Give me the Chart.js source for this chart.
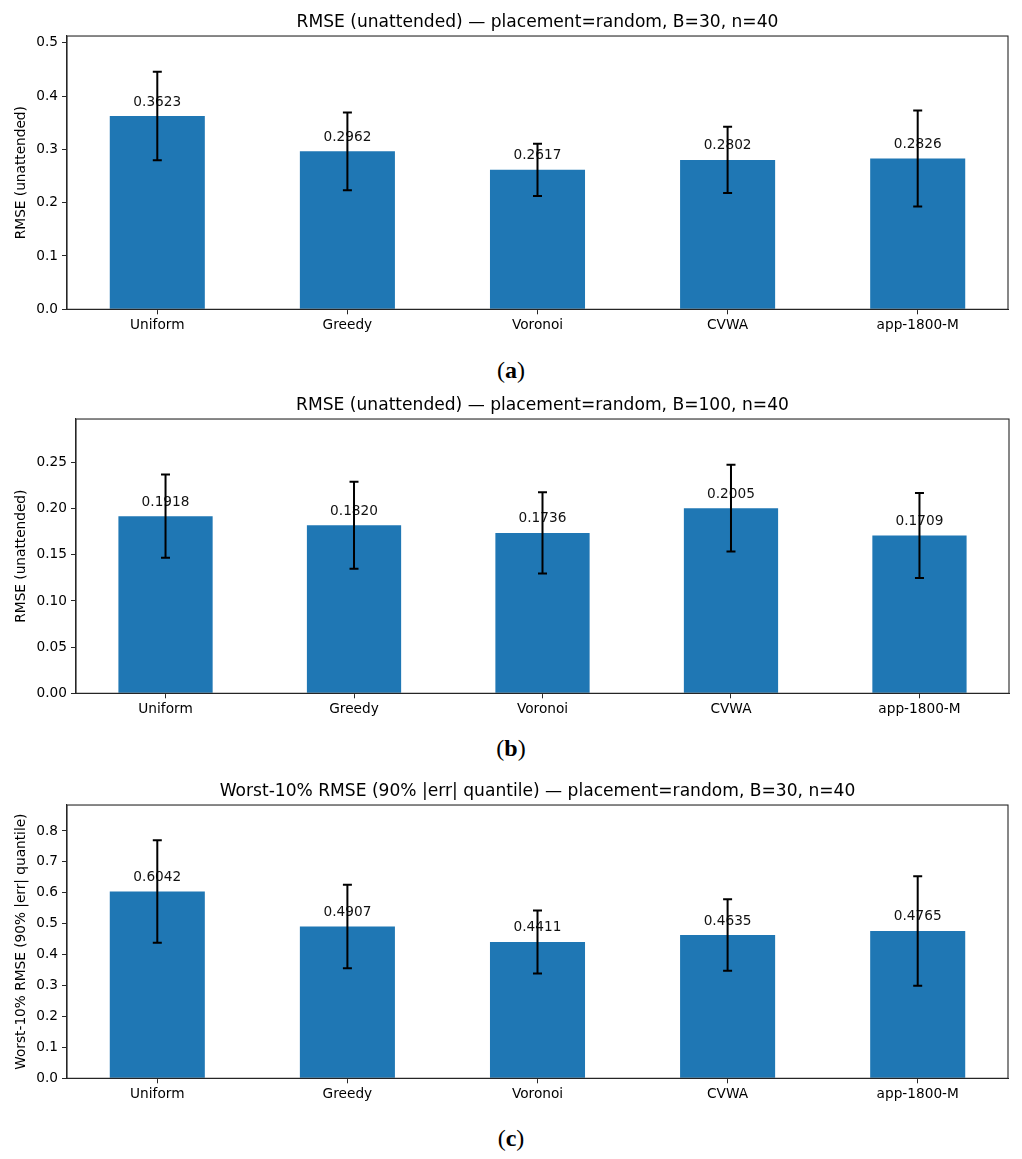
<!DOCTYPE html>
<html>
<head>
<meta charset="utf-8">
<script src="https://cdn.jsdelivr.net/npm/chart.js@4/dist/chart.umd.min.js"></script>
<style>
  html, body { margin: 0; padding: 0; background: #fff; }
  #page { position: relative; width: 1022px; height: 1159px; overflow: hidden; }
  canvas { position: absolute; left: 0; }
  .cap { position: absolute; left: 0; width: 1022px; text-align: center;
         font-family: "Liberation Serif", "DejaVu Serif", serif; font-size: 24px; line-height: 24px; color: #000; }
  .cap b { font-weight: bold; }
</style>
</head>
<body>
<div id="page">
  <canvas id="chartA" width="1022" height="341" style="top:0px"></canvas>
  <div class="cap" style="top:358px">(<b>a</b>)</div>
  <canvas id="chartB" width="1022" height="341" style="top:383px"></canvas>
  <div class="cap" style="top:736px">(<b>b</b>)</div>
  <canvas id="chartC" width="1022" height="341" style="top:769px"></canvas>
  <div class="cap" style="top:1126px">(<b>c</b>)</div>
</div>
<script>
// METODOS (CATEGORIAS)
const methods = ['Uniform', 'Greedy', 'Voronoi', 'CVWA', 'app-1800-M'];

// (a) RMSE B=30
const rmseB30 = [0.3623, 0.2962, 0.2617, 0.2802, 0.2826];
const rmseB30Err = [0.083, 0.073, 0.049, 0.062, 0.090];
const ticksA = [0, 0.1, 0.2, 0.3, 0.4, 0.5];

// (b) RMSE B=100
const rmseB100 = [0.1918, 0.1820, 0.1736, 0.2005, 0.1709];
const rmseB100Err = [0.045, 0.047, 0.044, 0.047, 0.046];
const ticksB = [0, 0.05, 0.10, 0.15, 0.20, 0.25];

// (c) WORST-10% B=30
const worstB30 = [0.6042, 0.4907, 0.4411, 0.4635, 0.4765];
const worstB30Err = [0.166, 0.135, 0.102, 0.116, 0.177];
const ticksC = [0, 0.1, 0.2, 0.3, 0.4, 0.5, 0.6, 0.7, 0.8];

Chart.defaults.font.family = 'DejaVu Sans';
Chart.defaults.font.size = 13.7;
Chart.defaults.color = '#000';

const AXIS = '#262626';

// BARRAS DE ERROR + ETIQUETAS + MARCO
const extrasPlugin = {
  id: 'extras',
  afterDatasetsDraw(chart, args, opts) {
    const ctx = chart.ctx;
    const xs = chart.scales.x, ys = chart.scales.y;
    ctx.save();
    // etiquetas de valor
    ctx.fillStyle = '#111';
    ctx.font = '13.7px "DejaVu Sans"';
    ctx.textAlign = 'center';
    ctx.textBaseline = 'alphabetic';
    opts.values.forEach((v, i) => {
      ctx.fillText(v.toFixed(4), xs.getPixelForValue(i), ys.getPixelForValue(v) - 10.5);
    });
    // barras de error
    ctx.strokeStyle = '#000';
    ctx.lineWidth = 2;
    opts.values.forEach((v, i) => {
      const x = xs.getPixelForValue(i);
      const yT = ys.getPixelForValue(v + opts.errors[i]);
      const yB = ys.getPixelForValue(v - opts.errors[i]);
      ctx.beginPath();
      ctx.moveTo(x, yT); ctx.lineTo(x, yB);
      ctx.moveTo(x - 4.5, yT); ctx.lineTo(x + 4.5, yT);
      ctx.moveTo(x - 4.5, yB); ctx.lineTo(x + 4.5, yB);
      ctx.stroke();
    });
    // marco
    const a = chart.chartArea;
    ctx.strokeStyle = AXIS;
    ctx.lineWidth = 1.1;
    ctx.strokeRect(a.left, a.top, a.right - a.left, a.bottom - a.top);
    ctx.restore();
  }
};

function makeChart(id, title, yTitle, values, errors, yTicks, yMax, decimals, yAxisW, rightPad, xAxisH) {
  const ctx = document.getElementById(id).getContext('2d');
  return new Chart(ctx, {
    type: 'bar',
    data: {
      datasets: [{
        data: values.map((v, i) => ({ x: i, y: v })),
        backgroundColor: '#1f77b4',
        borderWidth: 0,
        barPercentage: 0.5,
        categoryPercentage: 1.0
      }]
    },
    options: {
      responsive: false,
      animation: false,
      devicePixelRatio: 1,
      layout: { padding: { left: 0, right: rightPad, top: 0, bottom: 0 } },
      plugins: {
        legend: { display: false },
        tooltip: { enabled: false },
        title: {
          display: true,
          text: title,
          fullSize: false,
          font: { size: 17.1, weight: 'normal' },
          color: '#000',
          padding: { top: 12.1, bottom: 3.4 }
        },
        extras: { values: values, errors: errors }
      },
      scales: {
        x: {
          type: 'linear',
          min: -0.475,
          max: 4.475,
          offset: false,
          afterBuildTicks: (axis) => { axis.ticks = methods.map((m, i) => ({ value: i })); },
          afterFit: (axis) => { axis.height = xAxisH; },
          ticks: {
            autoSkip: false, maxRotation: 0, padding: 2.5, color: '#000',
            callback: (v) => methods[v]
          },
          grid: { display: true, offset: false, drawOnChartArea: false, drawTicks: true, tickLength: 5, tickColor: AXIS },
          border: { display: true, color: AXIS, width: 1.1 }
        },
        y: {
          min: 0,
          max: yMax,
          afterBuildTicks: (axis) => { axis.ticks = yTicks.map(v => ({ value: v })); },
          afterFit: (axis) => { axis.width = yAxisW; },
          ticks: { padding: 4, color: '#000', callback: (v) => Number(v).toFixed(decimals) },
          grid: { display: true, drawOnChartArea: false, drawTicks: true, tickLength: 5, tickColor: AXIS },
          border: { display: true, color: AXIS, width: 1.1 },
          title: { display: true, text: yTitle, color: '#000', font: { size: 13.7 }, padding: { top: 13.3, bottom: 0 } }
        }
      }
    },
    plugins: [extrasPlugin]
  });
}

makeChart('chartA', 'RMSE (unattended) — placement=random, B=30, n=40', 'RMSE (unattended)',
  rmseB30, rmseB30Err, ticksA, 0.5125, 1, 67, 14, 31.7);
makeChart('chartB', 'RMSE (unattended) — placement=random, B=100, n=40', 'RMSE (unattended)',
  rmseB100, rmseB100Err, ticksB, 0.297, 2, 76, 13, 30.7);
makeChart('chartC', 'Worst-10% RMSE (90% |err| quantile) — placement=random, B=30, n=40', 'Worst-10% RMSE (90% |err| quantile)',
  worstB30, worstB30Err, ticksC, 0.884, 1, 67, 14, 31.7);
</script>
</body>
</html>
